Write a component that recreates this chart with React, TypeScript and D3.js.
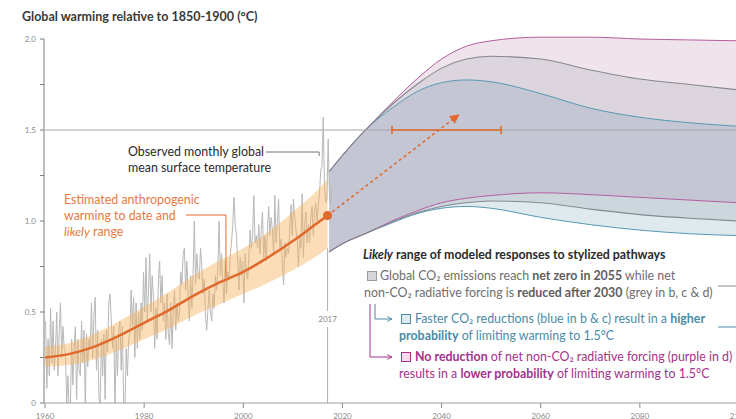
import React from 'react';
import * as d3 from 'd3';

const [W, H] = [736, 419];

// observed global mean surface temperature, four values a year from 1960
const obsStart = 1960;
const observed = [
  0.45, 0.08, 0.35, 0.15,
  0.52, 0.22, 0.45, 0.18,
  0.30, 0.50, 0.15, 0.40,
  0.55, 0.25, 0.42, 0.30,
  0.28, 0.00, 0.15, -0.05,
  -0.02, 0.35, 0.10, 0.30,
  0.42, 0.02, 0.35, 0.18,
  0.15, 0.45, 0.22, 0.40,
  -0.03, 0.38, 0.20, 0.35,
  0.30, 0.55, 0.25, 0.48,
  0.58, 0.18, 0.40, 0.03,
  -0.02, 0.35, 0.15, 0.38,
  0.02, 0.40, 0.28, 0.55,
  0.60, 0.45, 0.30, 0.42,
  -0.05, 0.35, 0.15, 0.40,
  0.45, 0.18, 0.42, -0.02,
  -0.05, 0.30, 0.15, 0.35,
  0.38, 0.62, 0.42, 0.58,
  0.25, 0.55, 0.30, 0.50,
  0.35, 0.55, 0.40, 0.72,
  0.50, 0.80, 0.45, 0.62,
  0.82, 0.50, 0.70, 0.58,
  0.30, 0.52, 0.35, 0.68,
  0.78, 0.55, 0.70, 0.45,
  0.55, 0.35, 0.60, 0.38,
  0.32, 0.55, 0.30, 0.50,
  0.62, 0.40, 0.55, 0.45,
  0.50, 0.72, 0.65, 0.82,
  0.85, 0.62, 0.78, 0.58,
  0.45, 0.70, 0.52, 0.72,
  1.00, 0.65, 0.82, 0.70,
  0.68, 0.85, 0.75, 0.60,
  0.68, 0.48, 0.40, 0.52,
  0.62, 0.50, 0.45, 0.60,
  0.52, 0.70, 0.62, 0.75,
  1.00, 0.70, 0.82, 0.65,
  0.55, 0.78, 0.60, 0.72,
  0.68, 0.82, 0.88, 0.98,
  1.13, 0.98, 0.92, 0.78,
  0.62, 0.80, 0.70, 0.78,
  0.55, 0.82, 0.72, 0.68,
  0.80, 0.95, 0.85, 0.92,
  1.14, 0.88, 0.92, 0.85,
  0.98, 0.82, 0.95, 1.05,
  0.80, 0.92, 0.78, 0.95,
  1.08, 0.92, 1.02, 0.95,
  0.82, 1.14, 0.88, 1.00,
  1.12, 0.85, 0.90, 0.78,
  0.65, 0.88, 0.80, 0.85,
  0.82, 0.95, 1.09, 0.92,
  1.12, 1.02, 0.95, 0.90,
  0.75, 0.92, 0.85, 1.15,
  0.80, 0.98, 1.05, 0.88,
  0.98, 0.88, 1.02, 1.08,
  0.92, 1.05, 1.10, 1.00,
  1.08, 1.15, 1.28, 1.30,
  1.57, 1.20, 1.10, 1.12,
  1.45, 1.15, 1.10, 1.18,
];

// estimated anthropogenic warming and likely range
const anthroYears = [1960, 1965, 1970, 1975, 1980, 1985, 1990, 1995, 2000, 2005, 2010, 2015, 2017];
const anthroMid = [0.25, 0.27, 0.31, 0.37, 0.44, 0.51, 0.59, 0.66, 0.72, 0.80, 0.89, 0.99, 1.03];
const anthroLow = [0.20, 0.21, 0.24, 0.29, 0.35, 0.41, 0.48, 0.54, 0.60, 0.66, 0.73, 0.81, 0.85];
const anthroHigh = [0.31, 0.33, 0.38, 0.45, 0.53, 0.61, 0.70, 0.78, 0.85, 0.94, 1.05, 1.17, 1.23];

// modeled pathways, likely range
const pathYears = [2017.3, 2020, 2025, 2030, 2035, 2040, 2045, 2050, 2060, 2070, 2080, 2090, 2100];
const purpleTop = [1.27, 1.36, 1.51, 1.65, 1.78, 1.89, 1.96, 1.99, 2.01, 2.01, 2.00, 1.995, 1.99];
const greyTop = [1.27, 1.36, 1.51, 1.64, 1.75, 1.84, 1.89, 1.905, 1.89, 1.83, 1.78, 1.75, 1.72];
const blueTop = [1.27, 1.36, 1.51, 1.62, 1.71, 1.76, 1.775, 1.765, 1.70, 1.62, 1.57, 1.54, 1.52];
const purpleLow = [0.83, 0.875, 0.935, 1.0, 1.055, 1.10, 1.125, 1.14, 1.155, 1.145, 1.13, 1.115, 1.10];
const greyLow = [0.83, 0.875, 0.935, 0.995, 1.045, 1.08, 1.10, 1.11, 1.10, 1.065, 1.035, 1.015, 1.0];
const blueLow = [0.83, 0.875, 0.935, 0.99, 1.04, 1.07, 1.08, 1.07, 1.02, 0.98, 0.95, 0.93, 0.92];

// 1.5°C reached between these years
const rangeYears = [2030, 2052];
const arrowTo = [2043.3, 1.58];

const yearTicks = [1960, 1980, 2000, 2020, 2040, 2060, 2080, 2100];
const tempTicks = [0, 0.25, 0.5, 0.75, 1, 1.25, 1.5, 1.75, 2];
const tempLabels = ['0', '', '0.5', '', '1.0', '', '1.5', '', '2.0'];

const ORANGE = '#e2692c';
const GREY_TXT = '#6e6e6e';
const BLUE_TXT = '#4a8ba6';
const PURPLE_TXT = '#a2338a';
const FS = 12.4;

export default function App() {
  const x = d3.scaleLinear().domain([1960, 2100]).range([45, 739]);
  const y = d3.scaleLinear().domain([0, 2]).range([403, 39]);

  const obsLine = d3.line<number>()
    .x((_, i) => x(obsStart + i / 4 + 0.125))
    .y(d => y(d))(observed);

  const anthroBand = d3.area<number>()
    .x(d => x(d))
    .y0((_, i) => y(anthroLow[i]))
    .y1((_, i) => y(anthroHigh[i]))
    .curve(d3.curveMonotoneX)(anthroYears);
  const anthroLine = d3.line<number>()
    .x(d => x(d))
    .y((_, i) => y(anthroMid[i]))
    .curve(d3.curveMonotoneX)(anthroYears);

  const band = (lo: number[], hi: number[]) => d3.area<number>()
    .x(d => x(d))
    .y0((_, i) => y(lo[i]))
    .y1((_, i) => y(hi[i]))
    .curve(d3.curveMonotoneX)(pathYears);
  const edge = (v: number[]) => d3.line<number>()
    .x(d => x(d))
    .y((_, i) => y(v[i]))
    .curve(d3.curveMonotoneX)(pathYears);

  const x17 = x(2017);
  const lastMid = anthroMid[anthroMid.length - 1];

  return (
    <svg width={W} height={H} style={{position: 'absolute', left: 0, top: 0, background: '#fff'}}
         fontFamily="Lato, 'Open Sans', sans-serif">
      <defs>
        <clipPath id="plot">
          <rect x={x(1960)} y={0} width={x(2100) - x(1960)} height={y(0)} />
        </clipPath>
        <marker id="arrOrange" viewBox="0 0 10 10" refX="8" refY="5" markerWidth="6" markerHeight="6" orient="auto">
          <path d="M0,0 L10,5 L0,10 z" fill={ORANGE} />
        </marker>
        <marker id="arrBlue" viewBox="0 0 10 10" refX="9" refY="5" markerWidth="6" markerHeight="6" orient="auto">
          <path d="M1,1 L9,5 L1,9" fill="none" stroke={BLUE_TXT} strokeWidth="1.5" />
        </marker>
        <marker id="arrPurple" viewBox="0 0 10 10" refX="9" refY="5" markerWidth="6" markerHeight="6" orient="auto">
          <path d="M1,1 L9,5 L1,9" fill="none" stroke={PURPLE_TXT} strokeWidth="1.5" />
        </marker>
      </defs>

      <text x={22} y={21} fontSize={12.5} fontWeight={700} fill="#3a3a3a">Global warming relative to 1850-1900 (°C)</text>

      {/* 2017 marker line */}
      <line x1={x17} x2={x17} y1={y(0)} y2={y(0) - 76} stroke="#b0b0b0" strokeWidth={1} />
      <line x1={x17} x2={x17} y1={y(0) - 92} y2={y(0.85)} stroke="#b0b0b0" strokeWidth={1} />
      <text x={x17} y={y(0) - 81} fontSize={8} fill="#8a8a8a" textAnchor="middle">2017</text>

      {/* pathway ranges */}
      <path d={band(greyTop, purpleTop) ?? ''} fill="#efe3ec" />
      <path d={band(blueTop, greyTop) ?? ''} fill="#ddd5dd" />
      <path d={band(purpleLow, blueTop) ?? ''} fill="#c4c7d3" />
      <path d={band(greyLow, purpleLow) ?? ''} fill="#ccd6dd" />
      <path d={band(blueLow, greyLow) ?? ''} fill="#dfeaef" />
      <path d={edge(blueTop) ?? ''} fill="none" stroke="#5498b3" strokeWidth={1} />
      <path d={edge(blueLow) ?? ''} fill="none" stroke="#5498b3" strokeWidth={1} />
      <path d={edge(purpleTop) ?? ''} fill="none" stroke="#b45c9e" strokeWidth={1} />
      <path d={edge(purpleLow) ?? ''} fill="none" stroke="#b45c9e" strokeWidth={1} />
      <path d={edge(greyTop) ?? ''} fill="none" stroke="#858891" strokeWidth={1.1} />
      <path d={edge(greyLow) ?? ''} fill="none" stroke="#858891" strokeWidth={1.1} />

      {/* 1.5 reference line */}
      <line x1={x(1960)} x2={W} y1={y(1.5)} y2={y(1.5)} stroke="#a4a4a8" strokeWidth={1} />

      {/* observed */}
      <g clipPath="url(#plot)">
        <path d={obsLine ?? ''} fill="none" stroke="#b8b8b8" strokeWidth={1} />
      </g>

      {/* anthropogenic */}
      <path d={anthroBand ?? ''} fill="#f7b461" opacity={0.45} />
      <path d={anthroLine ?? ''} fill="none" stroke={ORANGE} strokeWidth={2.5} />
      <line x1={x17} y1={y(lastMid)} x2={x(arrowTo[0])} y2={y(arrowTo[1])}
            stroke={ORANGE} strokeWidth={1.6} strokeDasharray="3,3" markerEnd="url(#arrOrange)" />
      <circle cx={x17} cy={y(lastMid)} r={4.5} fill={ORANGE} />

      {/* 2030-2052 range */}
      <line x1={x(rangeYears[0])} x2={x(rangeYears[1])} y1={y(1.5)} y2={y(1.5)} stroke={ORANGE} strokeWidth={1.6} />
      {rangeYears.map(r => (
        <line key={r} x1={x(r)} x2={x(r)} y1={y(1.5) - 4} y2={y(1.5) + 4} stroke={ORANGE} strokeWidth={1.6} />
      ))}

      {/* axes */}
      <line x1={x(1960) - 1} x2={x(1960) - 1} y1={y(0)} y2={y(2)} stroke="#7a7a7a" strokeWidth={1} />
      {tempTicks.map((t, i) => (
        <g key={t}>
          <line x1={x(1960) - 5} x2={x(1960) - 1} y1={y(t)} y2={y(t)} stroke="#7a7a7a" />
          {tempLabels[i] && (
            <text x={x(1960) - 9} y={y(t) + 3} fontSize={8} fill="#8a8a8a" textAnchor="end">{tempLabels[i]}</text>
          )}
        </g>
      ))}
      <line x1={x(1960) - 1} x2={W} y1={y(0)} y2={y(0)} stroke="#a0a0a0" strokeWidth={1} />
      {yearTicks.map(t => (
        <g key={t}>
          <line x1={x(t)} x2={x(t)} y1={y(0)} y2={y(0) + 5} stroke="#8a8a8a" />
          <text x={x(t)} y={y(0) + 15.5} fontSize={8} fill="#8a8a8a" textAnchor="middle">{t}</text>
        </g>
      ))}

      {/* observed label */}
      <text fontSize={FS} fill="#2a2a2a">
        <tspan x={128} y={156}>Observed monthly global</tspan>
        <tspan x={128} y={172}>mean surface temperature</tspan>
      </text>
      <polyline points={`266,152 ${x(2015.3)},152 ${x(2015.3)},156`} fill="none" stroke="#777" strokeWidth={1} />

      {/* anthropogenic label */}
      <text fontSize={FS} fill="#e8793f">
        <tspan x={64} y={204}>Estimated anthropogenic</tspan>
        <tspan x={64} y={220}>warming to date and</tspan>
        <tspan x={64} y={236} fontStyle="italic">likely</tspan>
        <tspan> range</tspan>
      </text>
      <polyline points={`186,215 ${x(1996.5)},215 ${x(1996.5)},${y(0.69)}`} fill="none" stroke={ORANGE} strokeWidth={1} />

      {/* legend */}
      <text x={363} y={259} fontSize={FS} fontWeight={700} fill="#2a2a2a">
        <tspan fontStyle="italic">Likely</tspan> range of modeled responses to stylized pathways
      </text>
      <rect x={367.5} y={271.5} width={9} height={9} fill="#d6d6d8" stroke="#9a9a9a" />
      <text fontSize={FS} fill={GREY_TXT}>
        <tspan x={380} y={280}>Global CO₂ emissions reach </tspan>
        <tspan fontWeight={700} fill="#5e5e5e">net zero in 2055</tspan>
        <tspan> while net</tspan>
        <tspan x={364} y={297}>non-CO₂ radiative forcing is </tspan>
        <tspan fontWeight={700} fill="#5e5e5e">reduced after 2030</tspan>
        <tspan> (grey in b, c &amp; d)</tspan>
      </text>
      <polyline points="375,304 375,319 392,319" fill="none" stroke={BLUE_TXT} strokeWidth={1} markerEnd="url(#arrBlue)" />
      <polyline points="370,304 370,357 392,357" fill="none" stroke={PURPLE_TXT} strokeWidth={1} markerEnd="url(#arrPurple)" />
      <rect x={401.5} y={314.5} width={9} height={9} fill="#dfeaef" stroke={BLUE_TXT} />
      <text fontSize={FS} fill={BLUE_TXT}>
        <tspan x={415} y={323}>Faster CO₂ reductions (blue in b &amp; c) result in a </tspan>
        <tspan fontWeight={700}>higher</tspan>
        <tspan x={399} y={340} fontWeight={700}>probability</tspan>
        <tspan> of limiting warming to 1.5°C</tspan>
      </text>
      <rect x={401.5} y={352.5} width={9} height={9} fill="#eee0eb" stroke={PURPLE_TXT} />
      <text fontSize={FS} fill={PURPLE_TXT}>
        <tspan x={415} y={361} fontWeight={700}>No reduction</tspan>
        <tspan> of net non-CO₂ radiative forcing (purple in d)</tspan>
        <tspan x={399} y={378}>results in a </tspan>
        <tspan fontWeight={700}>lower probability</tspan>
        <tspan> of limiting warming to 1.5°C</tspan>
      </text>
      <line x1={718} x2={W} y1={286} y2={286} stroke="#8a8a8a" strokeWidth={1} />
      <line x1={718} x2={W} y1={327} y2={327} stroke={BLUE_TXT} strokeWidth={1} />
    </svg>
  );
}
